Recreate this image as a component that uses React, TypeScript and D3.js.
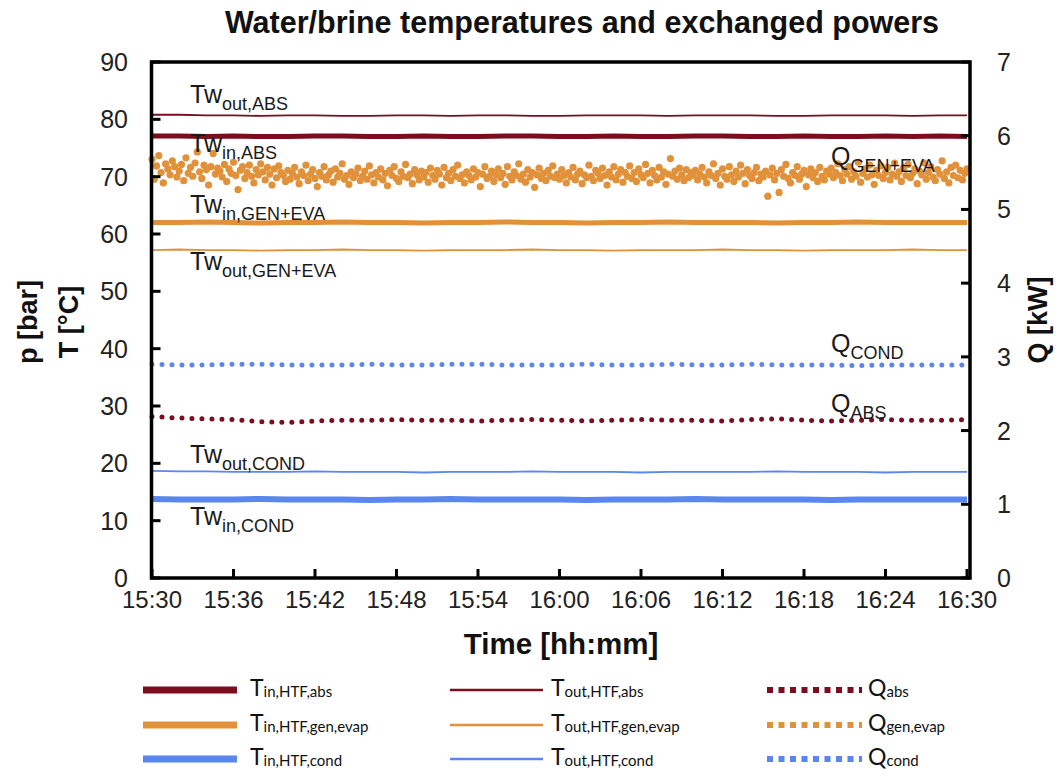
import React from 'react';
import * as d3 from 'd3';

// time base: one hour of test data, 15:30 -> 16:30
const START = new Date(2020, 0, 1, 15, 30);
const END = new Date(2020, 0, 1, 16, 30);
const LINE_STEP_MIN = 2;
const SCATTER_STEP_SEC = 10;

// temperatures [°C], sampled every 2 minutes
const twOutAbs = [80.8, 80.8, 80.7, 80.7, 80.6, 80.7, 80.7, 80.6, 80.6, 80.7, 80.7, 80.6, 80.7, 80.7, 80.6, 80.6,
  80.7, 80.7, 80.7, 80.6, 80.7, 80.7, 80.7, 80.6, 80.6, 80.7, 80.7, 80.7, 80.6, 80.7, 80.7];
const twInAbs = [77.1, 77.1, 77.0, 77.1, 77.0, 77.0, 77.1, 77.1, 77.0, 77.0, 77.1, 77.0, 77.0, 77.1, 77.1, 77.0,
  77.0, 77.1, 77.0, 77.0, 77.1, 77.1, 77.0, 77.0, 77.1, 77.0, 77.0, 77.1, 77.0, 77.1, 77.0];
const twInGen = [62.0, 62.0, 62.1, 62.0, 61.9, 62.0, 62.0, 62.1, 62.0, 62.0, 61.9, 62.0, 62.0, 62.1, 62.0, 62.0,
  61.9, 62.0, 62.0, 62.1, 62.0, 62.0, 62.0, 61.9, 62.0, 62.0, 62.1, 62.0, 62.0, 62.0, 62.0];
const twOutGen = [57.2, 57.3, 57.2, 57.2, 57.1, 57.2, 57.2, 57.3, 57.2, 57.2, 57.1, 57.2, 57.2, 57.2, 57.3, 57.2,
  57.2, 57.1, 57.2, 57.2, 57.2, 57.3, 57.2, 57.2, 57.1, 57.2, 57.2, 57.2, 57.3, 57.2, 57.2];
const twOutCond = [18.7, 18.6, 18.6, 18.5, 18.5, 18.5, 18.6, 18.5, 18.5, 18.5, 18.4, 18.5, 18.5, 18.5, 18.6, 18.5,
  18.5, 18.5, 18.4, 18.5, 18.5, 18.5, 18.5, 18.6, 18.5, 18.5, 18.5, 18.4, 18.5, 18.5, 18.5];
const twInCond = [13.8, 13.7, 13.7, 13.7, 13.8, 13.7, 13.7, 13.7, 13.6, 13.7, 13.7, 13.8, 13.7, 13.7, 13.7, 13.7,
  13.6, 13.7, 13.7, 13.7, 13.8, 13.7, 13.7, 13.7, 13.7, 13.6, 13.7, 13.7, 13.7, 13.7, 13.7];

// powers [kW], sampled every 2 minutes
const qCond = [2.90, 2.89, 2.89, 2.90, 2.90, 2.89, 2.89, 2.89, 2.90, 2.89, 2.89, 2.90, 2.90, 2.89, 2.89, 2.89,
  2.90, 2.89, 2.89, 2.90, 2.89, 2.89, 2.90, 2.89, 2.89, 2.89, 2.88, 2.89, 2.89, 2.89, 2.89];
const qAbs = [2.19, 2.17, 2.16, 2.15, 2.12, 2.11, 2.13, 2.14, 2.14, 2.15, 2.14, 2.14, 2.13, 2.14, 2.15, 2.14,
  2.13, 2.14, 2.15, 2.14, 2.14, 2.13, 2.15, 2.16, 2.14, 2.13, 2.14, 2.15, 2.14, 2.14, 2.15];

// generator + evaporator power [kW], sampled every 10 s
const qGenEva = [
  5.68, 5.41, 5.59, 5.73, 5.50, 5.36, 5.62, 5.55, 5.47, 5.66, 5.58, 5.44, 5.52, 5.61, 5.39, 5.70, 5.49, 5.57, 5.45, 5.63,
  5.78, 5.51, 5.42, 5.60, 5.54, 5.33, 5.58, 5.76, 5.48, 5.56,
  5.52, 5.44, 5.61, 5.38, 5.55, 5.49, 5.64, 5.46, 5.27, 5.53, 5.58, 5.42, 5.50, 5.60, 5.45, 5.36, 5.54, 5.47, 5.62, 5.51,
  5.40, 5.57, 5.48, 5.33, 5.55, 5.43, 5.59, 5.50, 5.46, 5.38,
  5.53, 5.41, 5.49, 5.57, 5.44, 5.35, 5.51, 5.46, 5.60, 5.39, 5.48, 5.54, 5.42, 5.31, 5.50, 5.45, 5.58, 5.40, 5.47, 5.52,
  5.37, 5.55, 5.44, 5.49, 5.62, 5.41, 5.46, 5.34, 5.51, 5.43,
  5.48, 5.56, 5.39, 5.45, 5.52, 5.41, 5.59, 5.47, 5.36, 5.50, 5.44, 5.55, 5.40, 5.49, 5.32, 5.53, 5.46, 5.58, 5.42, 5.38,
  5.51, 5.45, 5.61, 5.43, 5.48, 5.35, 5.54, 5.47, 5.40, 5.52,
  5.44, 5.50, 5.37, 5.56, 5.46, 5.41, 5.53, 5.48, 5.33, 5.57, 5.43, 5.49, 5.39, 5.54, 5.45, 5.60, 5.42, 5.47, 5.36, 5.51,
  5.46, 5.40, 5.55, 5.44, 5.50, 5.31, 5.48, 5.58, 5.42, 5.45,
  5.52, 5.38, 5.47, 5.55, 5.43, 5.49, 5.34, 5.58, 5.45, 5.40, 5.51, 5.46, 5.62, 5.41, 5.48, 5.37, 5.54, 5.44, 5.50, 5.30,
  5.47, 5.56, 5.42, 5.49, 5.39, 5.53, 5.45, 5.59, 5.43, 5.48,
  5.41, 5.54, 5.46, 5.36, 5.50, 5.44, 5.57, 5.40, 5.48, 5.52, 5.35, 5.47, 5.43, 5.60, 5.45, 5.39, 5.53, 5.49, 5.42, 5.56,
  5.46, 5.33, 5.51, 5.44, 5.58, 5.40, 5.48, 5.54, 5.37, 5.50,
  5.45, 5.59, 5.42, 5.50, 5.38, 5.55, 5.47, 5.43, 5.61, 5.49, 5.36, 5.53, 5.46, 5.40, 5.57, 5.44, 5.51, 5.34, 5.48, 5.69,
  5.45, 5.52, 5.41, 5.56, 5.47, 5.39, 5.54, 5.43, 5.50, 5.46,
  5.53, 5.40, 5.48, 5.57, 5.44, 5.36, 5.51, 5.46, 5.62, 5.42, 5.49, 5.33, 5.55, 5.45, 5.41, 5.58, 5.47, 5.38, 5.52, 5.44,
  5.60, 5.49, 5.35, 5.54, 5.46, 5.42, 5.50, 5.57, 5.39, 5.48,
  5.44, 5.52, 5.18, 5.47, 5.56, 5.40, 5.49, 5.23, 5.54, 5.45, 5.61, 5.42, 5.36, 5.50, 5.46, 5.58, 5.41, 5.48, 5.53, 5.31,
  5.47, 5.55, 5.43, 5.50, 5.38, 5.57, 5.45, 5.40, 5.52, 5.48,
  5.56, 5.43, 5.50, 5.62, 5.46, 5.39, 5.54, 5.48, 5.58, 5.41, 5.51, 5.45, 5.64, 5.37, 5.49, 5.55, 5.44, 5.60, 5.47, 5.34,
  5.53, 5.46, 5.59, 5.42, 5.50, 5.57, 5.40, 5.48, 5.63, 5.45,
  5.51, 5.38, 5.57, 5.46, 5.61, 5.43, 5.49, 5.55, 5.35, 5.52, 5.47, 5.63, 5.41, 5.50, 5.58, 5.44, 5.39, 5.54, 5.48, 5.66,
  5.42, 5.51, 5.36, 5.57, 5.46, 5.60, 5.43, 5.53, 5.40, 5.49,
  5.55,
];

const tTicks = [0, 10, 20, 30, 40, 50, 60, 70, 80, 90];
const qTicks = [0, 1, 2, 3, 4, 5, 6, 7];

const RED = '#7c0d1f';
const ORANGE = '#e0913a';
const BLUE = '#5b86f0';

const legendItems = [
  { main: 'T', sub: 'in,HTF,abs', color: RED, kind: 'thick' },
  { main: 'T', sub: 'out,HTF,abs', color: RED, kind: 'thin' },
  { main: 'Q', sub: 'abs', color: RED, kind: 'dot' },
  { main: 'T', sub: 'in,HTF,gen,evap', color: ORANGE, kind: 'thick' },
  { main: 'T', sub: 'out,HTF,gen,evap', color: ORANGE, kind: 'thin' },
  { main: 'Q', sub: 'gen,evap', color: ORANGE, kind: 'dot' },
  { main: 'T', sub: 'in,HTF,cond', color: BLUE, kind: 'thick' },
  { main: 'T', sub: 'out,HTF,cond', color: BLUE, kind: 'thin' },
  { main: 'Q', sub: 'cond', color: BLUE, kind: 'dot' },
];

const inlineLabels = [
  { main: 'Tw', sub: 'out,ABS', x: 190, y: 103 },
  { main: 'Tw', sub: 'in,ABS', x: 190, y: 152 },
  { main: 'Tw', sub: 'in,GEN+EVA', x: 190, y: 213 },
  { main: 'Tw', sub: 'out,GEN+EVA', x: 190, y: 270 },
  { main: 'Q', sub: 'GEN+EVA', x: 831, y: 165 },
  { main: 'Q', sub: 'COND', x: 831, y: 352 },
  { main: 'Q', sub: 'ABS', x: 831, y: 412 },
  { main: 'Tw', sub: 'out,COND', x: 190, y: 463 },
  { main: 'Tw', sub: 'in,COND', x: 190, y: 525 },
];

const W = 1059;
const H = 769;
const frame = { left: 151.5, right: 970, top: 62, bottom: 578 };
const FONT = '"Liberation Sans", Arial, sans-serif';
const LEG_FONT = 'Lato, "Open Sans", sans-serif';

const lineTime = (i: number) => d3.timeMinute.offset(START, i * LINE_STEP_MIN);
const scatterTime = (i: number) => d3.timeSecond.offset(START, i * SCATTER_STEP_SEC);

export default function App() {
  const x = d3.scaleTime().domain([START, END]).range([152, 967]);
  const yT = d3.scaleLinear().domain([0, 90]).range([frame.bottom, frame.top]);
  const yQ = d3.scaleLinear().domain([0, 7]).range([frame.bottom, frame.top]);

  const tLine = d3.line<number>().x((_, i) => x(lineTime(i))).y((d) => yT(d));
  const qLine = d3.line<number>().x((_, i) => x(lineTime(i))).y((d) => yQ(d));
  const fmt = d3.timeFormat('%H:%M');
  const xTicks = x.ticks(d3.timeMinute.every(6)!);

  const tempSeries = [
    { data: twOutAbs, color: RED, w: 1.8 },
    { data: twInAbs, color: RED, w: 5 },
    { data: twInGen, color: ORANGE, w: 5 },
    { data: twOutGen, color: ORANGE, w: 1.8 },
    { data: twOutCond, color: BLUE, w: 1.8 },
    { data: twInCond, color: BLUE, w: 6 },
  ];

  const legRows = [690, 725, 759];
  const legCols = [
    { x0: 143, x1: 237, tx: 250 },
    { x0: 450, x1: 543, tx: 551 },
    { x0: 767, x1: 862, tx: 868 },
  ];

  return (
    <svg width={W} height={H} style={{ position: 'absolute', left: 0, top: 0 }} fontFamily={FONT}>
      <rect width={W} height={H} fill="#fff" />
      <text x={582} y={33} textAnchor="middle" fontSize={30.5} fontWeight="bold" fill="#111">
        Water/brine temperatures and exchanged powers
      </text>

      {/* temperature lines */}
      {tempSeries.map((s, i) => (
        <path key={i} d={tLine(s.data)!} fill="none" stroke={s.color} strokeWidth={s.w} />
      ))}

      {/* powers */}
      {qGenEva.map((v, i) => (
        <circle key={i} cx={x(scatterTime(i))} cy={yQ(v)} r={3.6} fill={ORANGE} />
      ))}
      <path d={qLine(qCond)!} fill="none" stroke={BLUE} strokeWidth={5} strokeDasharray="0 10" strokeLinecap="round" />
      <path d={qLine(qAbs)!} fill="none" stroke={RED} strokeWidth={5} strokeDasharray="0 10" strokeLinecap="round" />

      {/* frame and ticks */}
      <rect x={frame.left} y={frame.top} width={frame.right - frame.left} height={frame.bottom - frame.top}
        fill="none" stroke="#000" strokeWidth={3.5} />
      {tTicks.map((t) => (
        <g key={t}>
          <line x1={frame.left} x2={frame.left + 9} y1={yT(t)} y2={yT(t)} stroke="#000" strokeWidth={3} />
          <text x={128} y={yT(t) + 9} textAnchor="end" fontSize={25} fill="#222">{t}</text>
        </g>
      ))}
      {qTicks.map((t) => (
        <g key={t}>
          <line x1={frame.right - 9} x2={frame.right} y1={yQ(t)} y2={yQ(t)} stroke="#000" strokeWidth={3} />
          <text x={997} y={yQ(t) + 9} fontSize={25} fill="#222">{t}</text>
        </g>
      ))}
      {xTicks.map((t, i) => (
        <g key={i}>
          <line x1={x(t)} x2={x(t)} y1={frame.bottom} y2={frame.bottom - 9} stroke="#000" strokeWidth={3} />
          <text x={x(t)} y={608} textAnchor="middle" fontSize={24} fill="#222">{fmt(t)}</text>
        </g>
      ))}

      {/* axis titles */}
      <text transform="translate(37,322) rotate(-90)" textAnchor="middle" fontSize={27} fontWeight="bold" fill="#111">p [bar]</text>
      <text transform="translate(78,322) rotate(-90)" textAnchor="middle" fontSize={27} fontWeight="bold" fill="#111">T [°C]</text>
      <text transform="translate(1047,320) rotate(-90)" textAnchor="middle" fontSize={27} fontWeight="bold" fill="#111">Q [kW]</text>
      <text x={561} y={654} textAnchor="middle" fontSize={29.5} fontWeight="bold" fill="#111">Time [hh:mm]</text>

      {/* inline labels */}
      {inlineLabels.map((l, i) => (
        <text key={i} x={l.x} y={l.y} fontSize={25} fill="#1a1a1a">
          {l.main}
          <tspan fontSize={18} dy={7}>{l.sub}</tspan>
        </text>
      ))}

      {/* legend */}
      {legendItems.map((it, i) => {
        const row = legRows[Math.floor(i / 3)];
        const col = legCols[i % 3];
        return (
          <g key={i}>
            {it.kind === 'dot' ? (
              <line x1={col.x0} x2={col.x1} y1={row} y2={row} stroke={it.color} strokeWidth={6} strokeDasharray="6 5.5" />
            ) : (
              <line x1={col.x0} x2={col.x1} y1={row} y2={row} stroke={it.color} strokeWidth={it.kind === 'thick' ? 7 : 2.5} />
            )}
            <text x={col.tx} y={row + 6} fontFamily={LEG_FONT} fontSize={23} fill="#111">
              {it.main}
              <tspan fontSize={15} dy={1}>{it.sub}</tspan>
            </text>
          </g>
        );
      })}
    </svg>
  );
}
